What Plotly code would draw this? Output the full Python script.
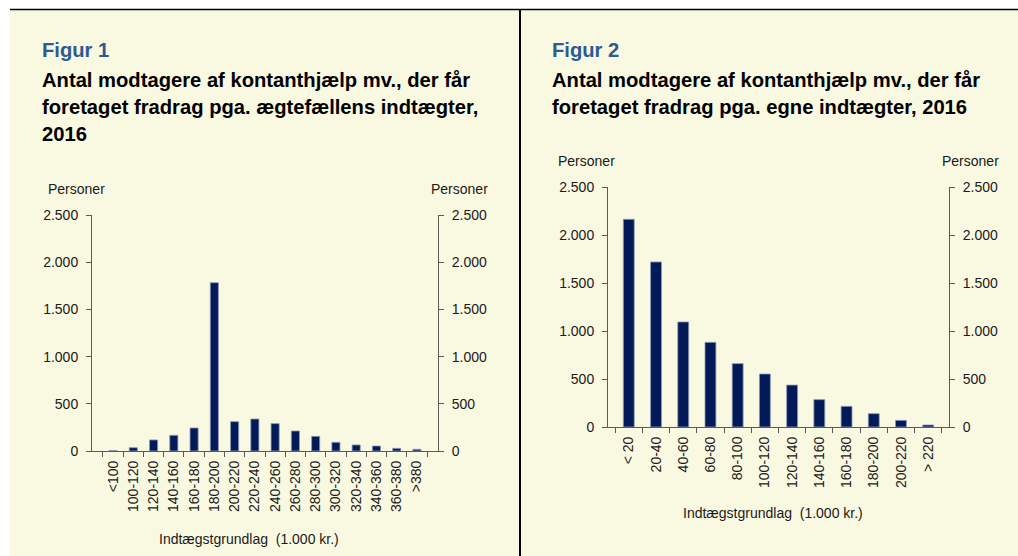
import plotly.graph_objects as go

# ---------------- data ----------------
fig1_categories = ["<100", "100-120", "120-140", "140-160", "160-180", "180-200",
                   "200-220", "220-240", "240-260", "260-280", "280-300",
                   "300-320", "320-340", "340-360", "360-380", ">380"]
fig1_values = [5, 35, 117, 166, 244, 1783, 311, 339, 290, 212, 155, 92, 64, 53, 28, 18]

fig2_categories = ["< 20", "20-40", "40-60", "60-80", "80-100", "100-120",
                   "120-140", "140-160", "160-180", "180-200", "200-220", "> 220"]
fig2_values = [2163, 1719, 1094, 882, 660, 552, 437, 285, 215, 139, 69, 21]

y_ticks = [0, 500, 1000, 1500, 2000, 2500]

# ---------------- style ----------------
W, H = 1018, 556
CREAM = "#F9F8E1"
BAR = "#021B58"
AXIS = "#5A5A5A"
TXT = "#1A1A1A"
BLUE = "#2D5A92"
FONT = "Liberation Sans, Arial, sans-serif"


def px(x):
    return x / W


def py(y):
    return 1 - y / H


fig = go.Figure()

fig.add_trace(go.Bar(x=fig1_categories, y=fig1_values, xaxis="x", yaxis="y",
                     marker=dict(color=BAR, line=dict(color="#8C97B5", width=0.8)),
                     hoverinfo="x+y", showlegend=False))
fig.add_trace(go.Scatter(x=fig1_categories, y=fig1_values, xaxis="x", yaxis="y2",
                         mode="markers", marker=dict(opacity=0), hoverinfo="skip",
                         showlegend=False))
fig.add_trace(go.Bar(x=fig2_categories, y=fig2_values, xaxis="x2", yaxis="y3",
                     marker=dict(color=BAR, line=dict(color="#8C97B5", width=0.8)),
                     hoverinfo="x+y", showlegend=False))
fig.add_trace(go.Scatter(x=fig2_categories, y=fig2_values, xaxis="x2", yaxis="y4",
                         mode="markers", marker=dict(opacity=0), hoverinfo="skip",
                         showlegend=False))

tickfont = dict(family=FONT, size=14, color=TXT)

yax_common = dict(range=[0, 2500], tickvals=y_ticks, tickformat=",d",
                  showgrid=False, zeroline=False, showline=True, linecolor=AXIS,
                  linewidth=1, ticks="outside", ticklen=5, tickcolor=AXIS,
                  ticklabelstandoff=5, automargin=False,
                  tickfont=tickfont, fixedrange=True)
xax_common = dict(type="category", showgrid=False, zeroline=False, showline=True,
                  linecolor=AXIS, linewidth=1, ticks="outside", ticklen=5,
                  tickcolor=AXIS, tickson="boundaries", tickangle=-90,
                  ticklabelstandoff=3, automargin=False,
                  tickfont=tickfont, fixedrange=True)

# figure 1 domains
f1x = [px(92), px(438)]
f1y = [py(451), py(215)]
# figure 2 domains
f2x = [px(608), px(949)]
f2y = [py(427), py(187)]

fig.update_layout(
    template="none",
    width=W, height=H, autosize=False,
    margin=dict(l=0, r=0, t=0, b=0, pad=0),
    paper_bgcolor="white", plot_bgcolor="rgba(0,0,0,0)",
    separators=",.",
    bargap=0.6,
    showlegend=False,
    font=dict(family=FONT, color=TXT),
    xaxis=dict(domain=f1x, anchor="y", **xax_common),
    yaxis=dict(domain=f1y, anchor="x", side="left", **yax_common),
    yaxis2=dict(domain=f1y, anchor="x", overlaying="y", side="right", **yax_common),
    xaxis2=dict(domain=f2x, anchor="y3", **xax_common),
    yaxis3=dict(domain=f2y, anchor="x2", side="left", **yax_common),
    yaxis4=dict(domain=f2y, anchor="x2", overlaying="y3", side="right", **yax_common),
)

# background panels and separators
fig.add_shape(type="rect", xref="paper", yref="paper", x0=px(10), x1=1, y0=0, y1=py(10),
              fillcolor=CREAM, line=dict(width=0), layer="below")
fig.add_shape(type="line", xref="paper", yref="paper", x0=px(10), x1=1, y0=py(9.5), y1=py(9.5),
              line=dict(color="black", width=1.5), layer="above")
fig.add_shape(type="line", xref="paper", yref="paper", x0=px(520), x1=px(520), y0=0, y1=py(9.5),
              line=dict(color="black", width=2), layer="above")


def ann(text, x, y, xanchor="left", size=14, color=TXT, bold=False):
    fig.add_annotation(text=f"<b>{text}</b>" if bold else text, xref="paper", yref="paper",
                       x=px(x), y=py(y), xanchor=xanchor, yanchor="middle",
                       showarrow=False, font=dict(family=FONT, size=size, color=color))


TS = 20.2
# titles figure 1
ann("Figur 1", 40, 50.5, size=TS, color=BLUE, bold=True)
ann("Antal modtagere af kontanthjælp mv., der får", 40, 79.7, size=TS, color="black", bold=True)
ann("foretaget fradrag pga. ægtefællens indtægter,", 40, 107.0, size=TS, color="black", bold=True)
ann("2016", 40, 134.2, size=TS, color="black", bold=True)
# titles figure 2
ann("Figur 2", 550, 50.5, size=TS, color=BLUE, bold=True)
ann("Antal modtagere af kontanthjælp mv., der får", 550, 79.7, size=TS, color="black", bold=True)
ann("foretaget fradrag pga. egne indtægter, 2016", 550, 107.0, size=TS, color="black", bold=True)

# axis unit labels
ann("Personer", 45.5, 188.7)
ann("Personer", 490, 188.7, xanchor="right")
ann("Personer", 556, 161)
ann("Personer", 1000.5, 161, xanchor="right")

# x axis titles
ann("Indtægstgrundlag\u00a0\u00a0(1.000 kr.)", 249, 538.7, xanchor="center")
ann("Indtægstgrundlag\u00a0\u00a0(1.000 kr.)", 773, 513, xanchor="center")

fig.write_html(
    "out.html",
    config={"displayModeBar": False, "responsive": False},
    post_script="document.body.style.margin='0';document.body.style.padding='0';"
                "document.body.style.overflow='hidden';",
)
